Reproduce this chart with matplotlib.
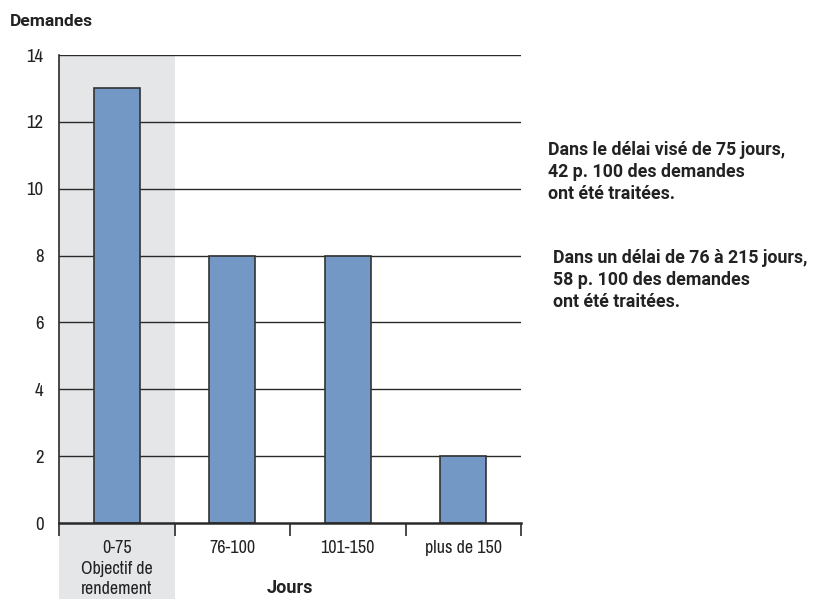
import matplotlib
matplotlib.use("Agg")
import matplotlib.pyplot as plt
import matplotlib.transforms as mtransforms
from matplotlib.patches import Rectangle
from matplotlib import font_manager

fl = font_manager.fontManager.ttflist
names = sorted({f.name for f in fl})
narrow = [n for n in names if ("Condensed" in n or "Narrow" in n)]
base = narrow[0] if narrow else ("Roboto" if "Roboto" in names else "DejaVu Sans")
bold_family = ['Roboto', 'DejaVu Sans'] if "Roboto" in names else ['DejaVu Sans']

plt.rcParams['font.family'] = [base, 'DejaVu Sans']

categories = ["0-75\nObjectif de\nrendement", "76-100", "101-150", "plus de 150"]
values = [13, 8, 8, 2]
yticks = [0, 2, 4, 6, 8, 10, 12, 14]
y_title = "Demandes"
x_title = "Jours"
note1 = "Dans le délai visé de 75 jours,\n42 p. 100 des demandes\nont été traitées."
note2 = "Dans un délai de 76 à 215 jours,\n58 p. 100 des demandes\nont été traitées."

W, H = 825, 599
fig = plt.figure(figsize=(W / 100, H / 100), dpi=100)
left, right, top, bottom = 59, 521, 55, 523
ax = fig.add_axes([left / W, 1 - bottom / H, (right - left) / W, (bottom - top) / H])

ax.set_xlim(0, len(categories))
ax.set_ylim(0, 14)

ybot = -(H - bottom) / (bottom - top)
ax.add_patch(Rectangle((0, ybot), 0.25, 1 - ybot, transform=ax.transAxes,
                       facecolor="#e5e6e8", edgecolor="none", clip_on=False, zorder=0))

for y in yticks[1:]:
    ax.axhline(y, color="#2a2a2a", lw=1.0, zorder=1)

xs = [i + 0.5 for i in range(len(categories))]
ax.bar(xs, values, width=0.4, color="#7398c6", edgecolor="#333333", linewidth=1.2, zorder=3)

for s in ["top", "right"]:
    ax.spines[s].set_visible(False)
ax.spines["left"].set_color("#2a2a2a")
ax.spines["left"].set_linewidth(1.2)
ax.spines["bottom"].set_color("#2a2a2a")
ax.spines["bottom"].set_linewidth(1.8)
ax.spines["bottom"].set_zorder(4)

ax.set_yticks(yticks)
ax.set_yticklabels([str(v) for v in yticks], fontsize=13.5, color="#222222")
ax.tick_params(axis="y", length=0, pad=11)

ax.set_xticks(range(len(categories) + 1))
ax.set_xticklabels([])
ax.tick_params(axis="x", length=9, width=1.2, color="#2a2a2a", direction="out")
for x, lab in zip(xs, categories):
    ax.text(x, -0.52, lab, ha="center", va="top", fontsize=13, color="#222222",
            linespacing=1.32)

fig.text(10 / W, 1 - 22 / H, y_title, fontsize=12.5, fontweight="bold", va="center",
         ha="left", color="#222222", family=bold_family)
tr = mtransforms.blended_transform_factory(ax.transAxes, fig.transFigure)
ax.text(0.5, 1 - 588 / H, x_title, transform=tr, fontsize=13, fontweight="bold",
        va="center", ha="center", color="#222222", family=bold_family)
fig.text(548 / W, 1 - 172 / H, note1, fontsize=12.8, fontweight="bold", va="center",
         ha="left", color="#222222", linespacing=1.28, family=bold_family)
fig.text(553 / W, 1 - 280 / H, note2, fontsize=12.8, fontweight="bold", va="center",
         ha="left", color="#222222", linespacing=1.28, family=bold_family)

fig.savefig("out.png", dpi=100)
